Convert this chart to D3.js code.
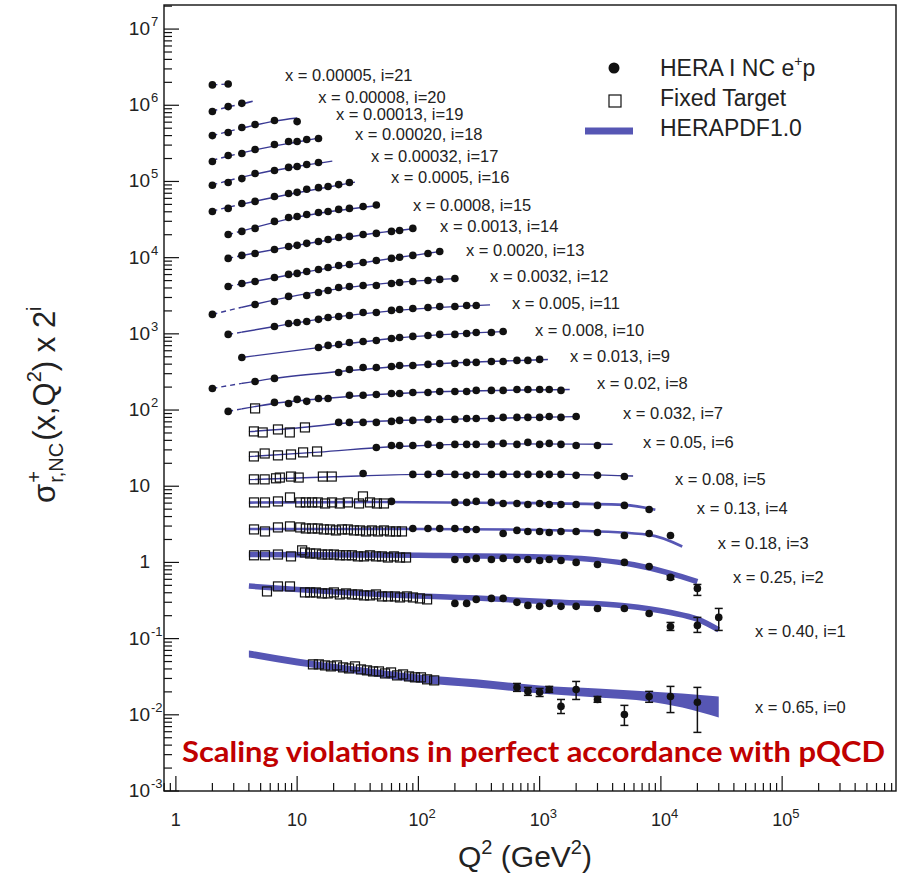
<!DOCTYPE html>
<html><head><meta charset="utf-8">
<script src="https://cdn.jsdelivr.net/npm/d3@7/dist/d3.min.js"></script>
<style>
html,body{margin:0;padding:0;background:#fff;}
svg{display:block;font-family:"Liberation Sans",Arial,Helvetica,sans-serif;}
</style></head><body>
<svg id="chart" width="915" height="886"></svg>
<script>
// ---------------- DATA ----------------
const xBinLabels = ["0.65","0.40","0.25","0.18","0.13","0.08","0.05","0.032","0.02","0.013","0.008","0.005","0.0032","0.0020","0.0013","0.0008","0.0005","0.00032","0.00020","0.00013","0.00008","0.00005"];
const labelQ2  = [59600,59600,39300,29500,19800,13050,7110,4870,2970,1780,916,592,390,247,151,90.2,59.5,40.6,30.0,20.9,14.9,7.94];
const labelVal = [0.0125,0.124,0.636,1.77,5.11,12.3,37.6,90.2,223,505,1110,2510,5660,12400,25600,48800,113000,213000,414000,757000,1300000,2460000];

const hera21 = [[2,1.85e6],[2.7,1.9e6]];
const hera20 = [[2,8.3e5],[2.7,9.6e5],[3.5,1.06e6]];
const hera19 = [[2,4.0e5],[2.7,4.4e5],[3.5,5.1e5],[4.5,5.6e5],[6.5,6.3e5],[10,6.1e5]];
const hera18 = [[2,1.83e5],[2.7,2.19e5],[3.5,2.33e5],[4.5,2.63e5],[6.5,3.06e5],[8.5,3.35e5],[10,3.35e5],[12,3.56e5],[15,3.67e5]];
const hera17 = [[2,8.9e4],[2.7,9.7e4],[3.5,1.09e5],[4.5,1.27e5],[6.5,1.39e5],[8.5,1.53e5],[10,1.57e5],[12,1.67e5],[15,1.77e5]];
const hera16 = [[2,4.04e4],[2.7,4.43e4],[3.5,5.14e4],[4.5,5.47e4],[6.5,6.36e4],[8.5,6.96e4],[10,7.2e4],[12,7.9e4],[15,8.3e4],[18,8.6e4],[22,9.1e4],[27,9.7e4]];
const hera15 = [[2.7,2.01e4],[3.5,2.21e4],[4.5,2.42e4],[6.5,2.99e4],[8.5,3.37e4],[10,3.47e4],[12,3.69e4],[15,3.92e4],[18,4.04e4],[22,4.3e4],[27,4.43e4],[35,4.7e4],[45,4.9e4]];
const hera14 = [[2.7,9.77e3],[3.5,1.07e4],[4.5,1.135e4],[6.5,1.28e4],[8.5,1.40e4],[10,1.45e4],[12,1.54e4],[15,1.63e4],[18,1.73e4],[22,1.84e4],[27,1.90e4],[35,2.01e4],[45,2.08e4],[60,2.21e4],[70,2.27e4],[90,2.42e4]];
const hera13 = [[2.7,4.19e3],[3.5,4.58e3],[4.5,4.87e3],[6.5,5.5e3],[8.5,6.03e3],[10,6.21e3],[12,6.59e3],[15,7.0e3],[18,7.43e3],[22,7.9e3],[27,8.14e3],[35,8.65e3],[45,9.18e3],[60,9.77e3],[70,1.01e4],[90,1.07e4],[120,1.135e4],[150,1.205e4]];
const hera12 = [[2,1.80e3],[4.5,2.43e3],[6.5,2.66e3],[8.5,3.10e3],[12,3.19e3],[15,3.49e3],[18,3.71e3],[22,4.06e3],[27,4.19e3],[35,4.32e3],[45,4.32e3],[60,4.58e3],[70,4.73e3],[90,4.87e3],[120,5.02e3],[150,5.18e3],[200,5.33e3]];
const hera11 = [[2.7,983],[6.5,1250],[8.5,1370],[10,1410],[12,1450],[15,1550],[18,1640],[22,1690],[27,1740],[35,1910],[45,1910],[60,2030],[70,2090],[90,2150],[120,2220],[150,2290],[200,2290],[250,2360],[300,2360]];
const hera10 = [[3.5,490],[15,663],[18,705],[22,726],[27,771],[35,795],[45,819],[60,870],[70,897],[90,925],[120,953],[150,983],[200,983],[250,1010],[300,1040],[400,1040],[500,1075]];
const hera9  = [[2,192],[4.5,237],[6.5,260],[22,311],[27,341],[35,362],[45,362],[60,373],[70,385],[90,385],[120,397],[150,409],[200,409],[250,422],[300,422],[400,434],[500,434],[650,448],[800,448],[1000,462]];
const hera8  = [[2.7,95.9],[6.5,126],[8.5,122],[10,138],[12,130],[15,142],[18,142],[27,156],[35,156],[45,160],[60,165],[70,165],[90,170],[120,170],[150,175],[200,175],[250,175],[300,181],[400,181],[500,181],[650,186],[800,186],[1000,186],[1200,186],[1500,181]];
const hera7  = [[22,68.8],[27,68.8],[35,68.8],[45,68.8],[60,70.9],[70,73.1],[90,73.1],[120,75.3],[150,75.3],[200,75.3],[250,77.6],[300,77.6],[400,77.6],[500,80.0],[650,80.0],[800,80.0],[1000,80.0],[1200,82.4],[1500,80.0],[2000,82.4]];
const hera6  = [[45,32.3],[60,34.3],[70,34.3],[90,34.3],[120,35.4],[150,34.3],[200,35.4],[250,35.4],[300,35.4],[400,35.4],[500,36.5],[650,35.4],[800,37.6],[1000,35.4],[1200,36.5],[1500,35.4],[2000,34.3],[3000,34.3]];
const hera5  = [[35,14.7],[90,14.3],[120,14.3],[150,14.7],[200,14.3],[250,13.9],[300,14.3],[400,14.3],[500,14.3],[650,14.3],[800,14.3],[1000,14.3],[1200,14.3],[1500,14.3],[2000,13.9],[3000,13.9],[5000,13.4]];
const hera4  = [[60,6.32],[200,6.13],[250,6.13],[300,6.32],[400,6.13],[500,5.94],[650,5.94],[800,5.77],[1000,5.94],[1200,5.77],[1500,5.77],[2000,5.77],[3000,5.60],[5000,5.60],[8000,4.96]];
const hera3  = [[90,2.79],[120,2.79],[150,2.79],[200,2.79],[250,2.71],[300,2.71],[500,2.40],[650,2.63],[800,2.55],[1000,2.55],[1200,2.47],[1500,2.55],[2000,2.55],[3000,2.47],[5000,2.26],[8000,2.40],[12000,2.26]];
const hera2  = [[200,1.09],[250,1.09],[300,1.13],[400,1.09],[500,1.13],[650,1.09],[800,1.09],[1000,1.06],[1200,1.09],[1500,1.06],[2000,1.00],[3000,0.94],[5000,1.00],[8000,0.886],[12000,0.636,0.60,0.67],[20000,0.456,0.369,0.514]];
const hera1  = [[200,0.290],[250,0.290],[300,0.327],[400,0.337],[500,0.337],[650,0.299],[800,0.273],[1000,0.265],[1200,0.290],[1500,0.265],[2000,0.265],[3000,0.249],[5000,0.249],[8000,0.214],[12000,0.1445,0.128,0.163],[20000,0.149,0.1206,0.190],[30000,0.190,0.128,0.249]];
const hera0  = [[650,0.0229,0.0203,0.0258],[800,0.0203,0.0180,0.0229],[1000,0.0197,0.0174,0.0222],[1200,0.0215,0.0197,0.0236],[1500,0.0129,0.0104,0.0159],[2000,0.0215,0.0159,0.0274],[3000,0.0159,0.0146,0.0174],[5000,0.0101,0.00726,0.0133],[8000,0.0174,0.0146,0.0203],[12000,0.0174,0.0107,0.0236],[20000,0.0146,0.00588,0.0229]];

const ft8 = [[4.5,105]];
const ft7 = [[4.4,52.4],[5.2,50.8],[6.95,55.6],[8.7,50.8],[11.6,59.1]];
const ft6 = [[4.4,24.6],[5.4,26.9],[6.95,25.4],[8.9,26.1],[11.2,27.8],[14.6,28.6]];
const ft5 = [[4.4,12.3],[5.4,12.3],[6.7,12.7],[7.2,13.0],[8.9,13.4],[10.3,13.0],[16.3,13.4],[19.3,13.4]];
const ft4 = [[4.41,6.13],[5.43,6.13],[6.95,6.32],[8.73,7.13],[10.6,6.13],[11.8,6.13],[13.3,6.13],[14.8,6.13],[17.0,5.94],[19.4,6.13],[22.5,5.94],[26.2,6.13],[32.4,5.94],[34.9,7.35],[39.9,6.13],[45.5,5.94],[52.0,5.94]];
const ft3 = [[4.41,2.71],[5.43,2.55],[6.95,2.88],[8.73,2.97],[10.6,2.88],[11.8,2.79],[13.3,2.79],[14.8,2.79],[16.6,2.71],[18.7,2.71],[20.9,2.63],[23.4,2.71],[26.2,2.71],[29.4,2.63],[33.0,2.63],[37.0,2.55],[41.4,2.63],[46.4,2.55],[52.0,2.63],[58.3,2.55],[65.3,2.55],[73.2,2.55]];
const ft2 = [[4.41,1.24],[5.43,1.24],[6.95,1.27],[8.90,1.20],[11.0,1.44],[11.6,1.35],[12.8,1.31],[14.3,1.31],[16.0,1.27],[17.9,1.27],[20.1,1.27],[22.5,1.24],[25.3,1.24],[28.3,1.24],[31.7,1.20],[35.6,1.20],[39.9,1.24],[44.7,1.20],[50.1,1.20],[56.1,1.16],[62.9,1.20],[70.5,1.16],[79.1,1.16]];
const ft1 = [[5.64,0.416],[6.95,0.484],[8.73,0.484],[11.6,0.404],[12.8,0.404],[14.3,0.404],[16.0,0.392],[17.9,0.392],[20.1,0.404],[22.5,0.380],[25.3,0.392],[28.3,0.380],[31.7,0.380],[35.6,0.369],[39.9,0.369],[44.7,0.380],[50.1,0.358],[56.1,0.358],[64.1,0.358],[70.5,0.347],[80.5,0.358],[90.2,0.347],[103,0.337],[118,0.327]];
const ft0 = [[13.5,0.0459],[15.1,0.0459],[17.0,0.0445],[19.0,0.0432],[21.3,0.0445],[23.9,0.0419],[26.8,0.0406],[30.0,0.0432],[33.6,0.0394],[37.7,0.0383],[42.3,0.0371],[47.3,0.0371],[53.1,0.0349],[59.5,0.0360],[66.7,0.0329],[74.7,0.0339],[83.7,0.0319],[93.8,0.0310],[105,0.0310],[118,0.0292],[135,0.0283]];

const pdf21 = [[2,1.85e6],[2.7,1.9e6]];
const pdf20 = [[2,8.4e5],[2.7,9.5e5],[3.5,1.04e6],[4.3,1.13e6]];
const pdf19 = [[2,4.0e5],[3.5,5.0e5],[6.5,6.2e5],[10,6.8e5]];
const pdf18 = [[2,1.9e5],[4.5,2.6e5],[10,3.3e5],[15,3.7e5]];
const pdf17 = [[2,9.0e4],[4.5,1.25e5],[10,1.57e5],[19.5,1.85e5]];
const pdf16 = [[2,4.1e4],[4.5,5.5e4],[10,7.1e4],[30,9.8e4]];
const pdf15 = [[2.7,2.0e4],[4.5,2.5e4],[10,3.4e4],[45,4.8e4]];
const pdf14 = [[2.7,9.8e3],[4.5,1.15e4],[10,1.45e4],[35,2.0e4],[90,2.4e4]];
const pdf13 = [[2.7,4.2e3],[4.5,4.9e3],[10,6.2e3],[35,8.6e3],[150,1.2e4]];
const pdf12 = [[2,1.8e3],[4.5,2.45e3],[10,3.2e3],[35,4.3e3],[200,5.3e3]];
const pdf11 = [[2.7,980],[6.5,1250],[15,1550],[60,2000],[390,2400]];
const pdf10 = [[3.5,490],[15,660],[60,870],[500,1070]];
const pdf9  = [[2,192],[6.5,260],[22,320],[100,390],[1170,460]];
const pdf8  = [[2.7,96],[6.5,122],[20,145],[100,170],[1770,186]];
const pdf7  = [[4,52],[10,58],[30,69],[200,76],[2000,82]];
const pdf6  = [[4,24.5],[15,28],[60,33],[500,36],[4000,35.5]];
const pdf5  = [[4,12.2],[20,13.3],[100,14.3],[1000,14.4],[5900,13.6]];
const pdf4  = [[4,6.1],[50,6.2],[1000,6.0],[5000,5.7],[9000,4.9]];
const pdf3  = [[4,2.75],[100,2.75],[2000,2.6],[8000,2.3],[15000,1.62]];
const pdf2  = [[4,1.27],[100,1.24],[1000,1.18],[3000,1.08],[6000,0.93],[12000,0.72],[20000,0.56]];
const pdf1  = [[4,0.49],[10,0.44],[50,0.38],[300,0.34],[1500,0.30],[5000,0.27],[12000,0.22],[20000,0.18],[30000,0.13]];
const band0Q2 = [4,10,30,100,300,1000,3000,8000,15000,30000];
const band0Hi = [0.0700,0.0550,0.0432,0.0339,0.0292,0.0243,0.0222,0.0203,0.0191,0.0174];
const band0Lo = [0.0567,0.0445,0.0349,0.0266,0.0229,0.0191,0.0169,0.0150,0.0125,0.00925];

const fitQ2Min = 3.5;
const xMajor = [1,10,100,1000,10000,100000];
const yMajor = [1e-3,1e-2,1e-1,1,10,1e2,1e3,1e4,1e5,1e6,1e7];
const legendLabels = ["HERA I NC e", "Fixed Target", "HERAPDF1.0"];
const noteText = "Scaling violations in perfect accordance with pQCD";

// ---------------- DRAW ----------------
const svg = d3.select('#chart');
const M = {l:164, r:896, t:5, b:791};
const xS = d3.scaleLog().domain([0.798, 8.69e5]).range([M.l, M.r]);
const yS = d3.scaleLog().domain([1e-3, 2.07e7]).range([M.b, M.t]);
const lineColor = "#3a3a94", bandColor = "#5656b4";

const heraSets = [hera0,hera1,hera2,hera3,hera4,hera5,hera6,hera7,hera8,hera9,hera10,hera11,hera12,hera13,hera14,hera15,hera16,hera17,hera18,hera19,hera20,hera21];
const ftSets = [ft0,ft1,ft2,ft3,ft4,ft5,ft6,ft7,ft8];
const pdfSets = [null,pdf1,pdf2,pdf3,pdf4,pdf5,pdf6,pdf7,pdf8,pdf9,pdf10,pdf11,pdf12,pdf13,pdf14,pdf15,pdf16,pdf17,pdf18,pdf19,pdf20,pdf21];

const defs = svg.append('defs');
defs.append('clipPath').attr('id','clipLow').append('rect')
  .attr('x',M.l).attr('y',M.t).attr('width',xS(fitQ2Min)-M.l).attr('height',M.b-M.t);
defs.append('clipPath').attr('id','clipHigh').append('rect')
  .attr('x',xS(fitQ2Min)).attr('y',M.t).attr('width',M.r-xS(fitQ2Min)).attr('height',M.b-M.t);

svg.append('rect').attr('width',915).attr('height',886).attr('fill','#fff');

const gCurves = svg.append('g');
const line = d3.line().x(d=>xS(d[0])).y(d=>yS(d[1])).curve(d3.curveMonotoneX);
const area = d3.area().x(d=>xS(d.q)).y0(d=>yS(d.lo)).y1(d=>yS(d.hi)).curve(d3.curveMonotoneX);
gCurves.append('path')
  .attr('d', area(band0Q2.map((q,k)=>({q, lo:band0Lo[k], hi:band0Hi[k]}))))
  .attr('fill', bandColor);

pdfSets.forEach((pts,i)=>{
  if(!pts) return;
  const w = i<=2 ? 5.5 : (i<=4 ? 2.6 : 1.4);
  const col = i<=4 ? bandColor : lineColor;
  gCurves.append('path').attr('d', line(pts)).attr('fill','none')
    .attr('stroke', col).attr('stroke-width', w).attr('stroke-dasharray','5,4')
    .attr('clip-path','url(#clipLow)');
  gCurves.append('path').attr('d', line(pts)).attr('fill','none')
    .attr('stroke', col).attr('stroke-width', w)
    .attr('clip-path','url(#clipHigh)');
});

const gFT = svg.append('g');
ftSets.forEach(set=>{
  gFT.selectAll(null).data(set).enter().append('rect')
    .attr('x', d=>xS(d[0])-4.5).attr('y', d=>yS(d[1])-4.5)
    .attr('width',9).attr('height',9)
    .attr('fill','none').attr('stroke','#111').attr('stroke-width',1.2);
});

const gH = svg.append('g');
heraSets.forEach(set=>{
  const withErr = set.filter(d=>d.length>=4);
  const eb = gH.selectAll(null).data(withErr).enter().append('g');
  eb.append('line').attr('x1',d=>xS(d[0])).attr('x2',d=>xS(d[0]))
    .attr('y1',d=>yS(d[2])).attr('y2',d=>yS(d[3])).attr('stroke','#111').attr('stroke-width',1.5);
  eb.append('line').attr('x1',d=>xS(d[0])-4).attr('x2',d=>xS(d[0])+4)
    .attr('y1',d=>yS(d[2])).attr('y2',d=>yS(d[2])).attr('stroke','#111').attr('stroke-width',1.5);
  eb.append('line').attr('x1',d=>xS(d[0])-4).attr('x2',d=>xS(d[0])+4)
    .attr('y1',d=>yS(d[3])).attr('y2',d=>yS(d[3])).attr('stroke','#111').attr('stroke-width',1.5);
  gH.selectAll(null).data(set).enter().append('circle')
    .attr('cx', d=>xS(d[0])).attr('cy', d=>yS(d[1])).attr('r',3.8).attr('fill','#111');
});

svg.append('g').selectAll('text').data(xBinLabels).enter().append('text')
  .attr('x',(d,i)=>xS(labelQ2[i])).attr('y',(d,i)=>yS(labelVal[i]))
  .attr('dy','0.36em').attr('font-size',16.5).attr('fill','#222')
  .text((d,i)=>`x = ${d}, i=${i}`);

svg.append('rect').attr('x',M.l).attr('y',M.t).attr('width',M.r-M.l).attr('height',M.b-M.t)
  .attr('fill','none').attr('stroke','#111').attr('stroke-width',1.4);

const gT = svg.append('g').attr('stroke','#111').attr('stroke-width',1.2);
function minorTicks(dom){
  const out=[];
  for(let e=Math.floor(Math.log10(dom[0])); e<=Math.ceil(Math.log10(dom[1])); e++){
    for(let k=2;k<=9;k++){ const v=k*Math.pow(10,e); if(v>=dom[0]&&v<=dom[1]) out.push(v); }
  }
  return out;
}
const xDom = xS.domain(), yDom = yS.domain();
xMajor.forEach(v=>gT.append('line').attr('x1',xS(v)).attr('x2',xS(v)).attr('y1',M.b).attr('y2',M.b-15));
minorTicks(xDom).forEach(v=>gT.append('line').attr('x1',xS(v)).attr('x2',xS(v)).attr('y1',M.b).attr('y2',M.b-8));
yMajor.forEach(v=>gT.append('line').attr('y1',yS(v)).attr('y2',yS(v)).attr('x1',M.l).attr('x2',M.l+15));
minorTicks(yDom).forEach(v=>gT.append('line').attr('y1',yS(v)).attr('y2',yS(v)).attr('x1',M.l).attr('x2',M.l+8));

const gL = svg.append('g').attr('fill','#222');
xMajor.forEach(v=>{
  const e = Math.round(Math.log10(v));
  const t = gL.append('text').attr('y',826).attr('font-size',18);
  if(e<=1){ t.attr('x',xS(v)).attr('text-anchor','middle').text(e===0?'1':'10'); }
  else {
    t.attr('x',xS(v)-10);
    t.append('tspan').text('10');
    t.append('tspan').attr('dy',-8).attr('font-size',13).text(e);
  }
});
yMajor.forEach(v=>{
  const e = Math.round(Math.log10(v));
  const yy = yS(v)+6;
  if(e===0 || e===1){
    gL.append('text').attr('x',150).attr('y',yy).attr('text-anchor','end').attr('font-size',19).text(e===0?'1':'10');
  } else {
    gL.append('text').attr('x',150).attr('y',yy).attr('text-anchor','end').attr('font-size',19).text('10');
    gL.append('text').attr('x',151).attr('y',yy-9).attr('font-size',13).text(e<0?('-'+(-e)):e);
  }
});

const xt = svg.append('text').attr('x',458).attr('y',867).attr('font-size',30).attr('fill','#222');
xt.append('tspan').text('Q');
xt.append('tspan').attr('dy',-13).attr('font-size',20).text('2');
xt.append('tspan').attr('dy',13).text(' (GeV');
xt.append('tspan').attr('dy',-13).attr('font-size',20).text('2');
xt.append('tspan').attr('dy',13).text(')');

const yt = svg.append('g').attr('transform','translate(55,503) rotate(-90)').attr('fill','#222');
let cx = 0;
function piece(txt, size, dy, advance=true){
  const t = yt.append('text').attr('x',cx).attr('y',dy).attr('font-size',size).text(txt);
  const w = t.node().getComputedTextLength();
  if(advance) cx += w;
  return w;
}
piece('\u03c3',31,0);
const sx = cx+1; cx = sx;
const w1 = piece('+',20,-14,false);
cx = sx; const w2 = piece('r,NC',20,8,false);
cx = sx + Math.max(w1,w2) + 2;
piece('(x,Q',31,0);
piece('2',20,-14);
piece(') x 2',31,0);
piece('i',20,-14);

const lg = svg.append('g');
lg.append('circle').attr('cx',614).attr('cy',68).attr('r',5.5).attr('fill','#111');
lg.append('rect').attr('x',609).attr('y',95).attr('width',12).attr('height',12).attr('fill','none').attr('stroke','#111').attr('stroke-width',1.2);
lg.append('line').attr('x1',585).attr('x2',633).attr('y1',131).attr('y2',131).attr('stroke',bandColor).attr('stroke-width',7);
const l1 = lg.append('text').attr('x',660).attr('y',76).attr('font-size',23).attr('fill','#222');
l1.append('tspan').text(legendLabels[0]);
l1.append('tspan').attr('dy',-10).attr('font-size',14).text('+');
l1.append('tspan').attr('dy',10).text('p');
lg.append('text').attr('x',660).attr('y',106).attr('font-size',23).attr('fill','#222').text(legendLabels[1]);
lg.append('text').attr('x',660).attr('y',136).attr('font-size',23).attr('fill','#222').text(legendLabels[2]);

svg.append('text').attr('x',182).attr('y',762)
  .attr('font-family','Lato, "Open Sans", sans-serif').attr('font-weight','bold')
  .attr('font-size',28).attr('fill','#c00000')
  .attr('textLength',703).attr('lengthAdjust','spacingAndGlyphs')
  .text(noteText);
</script></body></html>
